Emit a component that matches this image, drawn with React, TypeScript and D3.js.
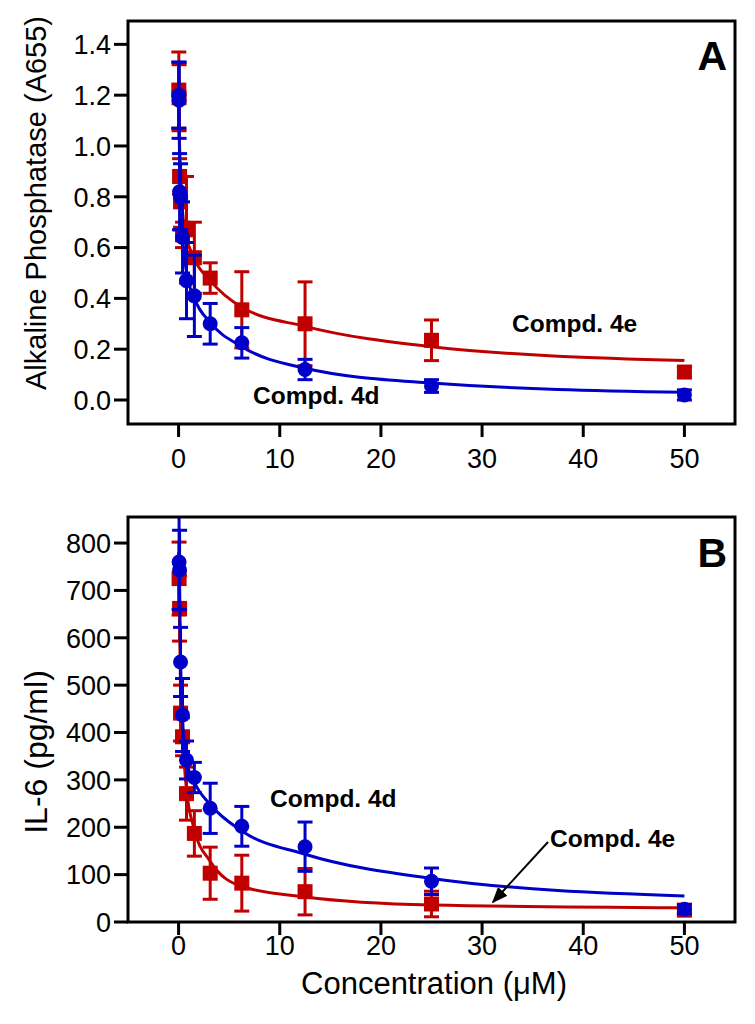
import React from 'react';
import * as d3 from 'd3';

// ---------- Data ----------
const xTicks = [0, 10, 20, 30, 40, 50];

// Panel A: Alkaline Phosphatase (A655)
const concA = [0.024, 0.049, 0.098, 0.195, 0.39, 0.78, 1.56, 3.125, 6.25, 12.5, 25, 50];
const red4eA = [1.22, 1.19, 0.88, 0.78, 0.65, 0.67, 0.56, 0.48, 0.355, 0.30, 0.235, 0.11];
const red4eAErr = [0.15, 0.13, 0.07, 0.10, 0.05, 0.21, 0.14, 0.06, 0.15, 0.165, 0.08, 0.02];
const blue4dA = [1.20, 1.18, 0.82, 0.80, 0.64, 0.47, 0.41, 0.30, 0.225, 0.12, 0.055, 0.02];
const blue4dAErr = [0.13, 0.15, 0.15, 0.13, 0.14, 0.15, 0.16, 0.08, 0.06, 0.04, 0.025, 0.02];
const fitConcA = [0, 0.1, 0.2, 0.4, 0.8, 1.56, 3.125, 6.25, 12.5, 25, 50];
const red4eAFit = [1.22, 1.0, 0.88, 0.74, 0.64, 0.555, 0.47, 0.365, 0.29, 0.21, 0.155];
const blue4dAFit = [1.19, 0.95, 0.80, 0.64, 0.50, 0.40, 0.305, 0.21, 0.125, 0.067, 0.03];
const yTicksA = [0, 0.2, 0.4, 0.6, 0.8, 1.0, 1.2, 1.4];

// Panel B: IL-6 (pg/ml)
const concB = [0.049, 0.098, 0.195, 0.39, 0.78, 1.56, 3.125, 6.25, 12.5, 25, 50];
const red4eB = [725, 662, 441, 391, 271, 187, 103, 82, 64, 38, 25];
const red4eBErr = [77, 69, 59, 40, 56, 48, 55, 59, 49, 27, 8];
const blue4dB = [760, 743, 549, 437, 342, 305, 240, 202, 159, 86, 27];
const blue4dBErr = [100, 84, 73, 77, 40, 32, 53, 42, 52, 28, 10];
const fitConcB = [0, 0.098, 0.2, 0.39, 0.78, 1.56, 3.125, 6.25, 12.5, 25, 50];
const red4eBFit = [730, 640, 480, 390, 280, 195, 128, 75, 53, 36, 30];
const blue4dBFit = [780, 700, 550, 430, 340, 295, 248, 192, 143, 92, 55];
const yTicksB = [0, 100, 200, 300, 400, 500, 600, 700, 800];

const RED = '#c00000';
const BLUE = '#0000c8';
const FONT = 'Arial, "Liberation Sans", Helvetica, sans-serif';

const LEFT = 128;
const RIGHT = 735;

type Series = { conc: number[]; vals: number[]; errs: number[]; color: string; shape: 'square' | 'circle' };
type Fit = { conc: number[]; vals: number[]; color: string };
type Note = { text: string; x: number; y: number };

function Panel(props: {
  id: string;
  top: number;
  bottom: number;
  yDomain: [number, number];
  yTicks: number[];
  fmt: (v: number) => string;
  series: Series[];
  fits: Fit[];
  notes: Note[];
  letter: string;
  letterY: number;
  xLabelOffset: number;
  arrow?: { x1: number; y1: number; x2: number; y2: number };
}) {
  const { id, top, bottom, yDomain, yTicks, fmt, series, fits, notes, letter, letterY, xLabelOffset, arrow } = props;
  const x = d3.scaleLinear().domain([-5, 55]).range([LEFT, RIGHT]);
  const y = d3.scaleLinear().domain(yDomain).range([bottom, top]);
  const line = d3
    .line<[number, number]>()
    .x((d) => x(d[0]))
    .y((d) => y(d[1]))
    .curve(d3.curveMonotoneX);
  const capW = 7.5;
  return (
    <g>
      <defs>
        <clipPath id={`clip-${id}`}>
          <rect x={LEFT} y={top} width={RIGHT - LEFT} height={bottom - top} />
        </clipPath>
      </defs>
      <g clipPath={`url(#clip-${id})`}>
        {series.map((s, si) => (
          <g key={`s${si}`}>
            {fits
              .filter((f) => f.color === s.color)
              .map((f, fi) => (
                <path
                  key={`f${fi}`}
                  d={line(f.conc.map((c, i) => [c, f.vals[i]] as [number, number])) || ''}
                  fill="none"
                  stroke={f.color}
                  strokeWidth={3}
                />
              ))}
            {s.conc.map((c, i) => {
              const cx = x(c);
              const y1 = y(s.vals[i] + s.errs[i]);
              const y2 = y(s.vals[i] - s.errs[i]);
              return (
                <g key={`e${i}`} stroke={s.color} strokeWidth={3}>
                  <line x1={cx} x2={cx} y1={y1} y2={y2} />
                  <line x1={cx - capW} x2={cx + capW} y1={y1} y2={y1} />
                  <line x1={cx - capW} x2={cx + capW} y1={y2} y2={y2} />
                </g>
              );
            })}
            {s.conc.map((c, i) =>
              s.shape === 'square' ? (
                <rect key={`m${i}`} x={x(c) - 7.5} y={y(s.vals[i]) - 7.5} width={15} height={15} fill={s.color} />
              ) : (
                <circle key={`m${i}`} cx={x(c)} cy={y(s.vals[i])} r={7.5} fill={s.color} />
              )
            )}
          </g>
        ))}
      </g>
      <rect x={LEFT} y={top} width={RIGHT - LEFT} height={bottom - top} fill="none" stroke="#000" strokeWidth={3} />
      {yTicks.map((t) => (
        <g key={`yt${t}`}>
          <line x1={LEFT - 14} x2={LEFT} y1={y(t)} y2={y(t)} stroke="#000" strokeWidth={3} />
          <text x={LEFT - 17} y={y(t)} dy="0.36em" textAnchor="end" fontSize={27} fontFamily={FONT} fill="#000">
            {fmt(t)}
          </text>
        </g>
      ))}
      {xTicks.map((t) => (
        <g key={`xt${t}`}>
          <line x1={x(t)} x2={x(t)} y1={bottom} y2={bottom + 13} stroke="#000" strokeWidth={3} />
          <text x={x(t)} y={bottom + xLabelOffset} textAnchor="middle" fontSize={27} fontFamily={FONT} fill="#000">
            {t}
          </text>
        </g>
      ))}
      {notes.map((n, i) => (
        <text key={`n${i}`} x={n.x} y={n.y} fontSize={24.5} fontWeight="bold" fontFamily={FONT} fill="#000">
          {n.text}
        </text>
      ))}
      {arrow && (
        <g>
          <defs>
            <marker id={`arr-${id}`} viewBox="0 0 10 10" refX="9" refY="5" markerWidth="8" markerHeight="8" orient="auto">
              <path d="M0,1 L10,5 L0,9 Z" fill="#000" />
            </marker>
          </defs>
          <line x1={arrow.x1} y1={arrow.y1} x2={arrow.x2} y2={arrow.y2} stroke="#000" strokeWidth={2} markerEnd={`url(#arr-${id})`} />
        </g>
      )}
      <text x={727} y={letterY} textAnchor="end" fontSize={41} fontWeight="bold" fontFamily={FONT} fill="#000">
        {letter}
      </text>
    </g>
  );
}

export default function App() {
  const f1 = d3.format('.1f');
  const f0 = d3.format('d');
  return (
    <div style={{ position: 'absolute', left: 0, top: 0 }}>
      <svg width={755} height={1024} style={{ display: 'block', background: '#fff' }}>
        <Panel
          id="a"
          top={21}
          bottom={424}
          yDomain={[-0.0945, 1.492]}
          yTicks={yTicksA}
          fmt={f1}
          xLabelOffset={44}
          series={[
            { conc: concA, vals: red4eA, errs: red4eAErr, color: RED, shape: 'square' },
            { conc: concA, vals: blue4dA, errs: blue4dAErr, color: BLUE, shape: 'circle' },
          ]}
          fits={[
            { conc: fitConcA, vals: red4eAFit, color: RED },
            { conc: fitConcA, vals: blue4dAFit, color: BLUE },
          ]}
          notes={[
            { text: 'Compd. 4e', x: 512, y: 332 },
            { text: 'Compd. 4d', x: 253, y: 404 },
          ]}
          letter="A"
          letterY={70}
        />
        <Panel
          id="b"
          top={517}
          bottom={922}
          yDomain={[0, 855]}
          yTicks={yTicksB}
          fmt={f0}
          xLabelOffset={33}
          series={[
            { conc: concB, vals: red4eB, errs: red4eBErr, color: RED, shape: 'square' },
            { conc: concB, vals: blue4dB, errs: blue4dBErr, color: BLUE, shape: 'circle' },
          ]}
          fits={[
            { conc: fitConcB, vals: red4eBFit, color: RED },
            { conc: fitConcB, vals: blue4dBFit, color: BLUE },
          ]}
          notes={[
            { text: 'Compd. 4d', x: 270, y: 807 },
            { text: 'Compd. 4e', x: 550, y: 847 },
          ]}
          letter="B"
          letterY={567}
          arrow={{ x1: 548, y1: 842, x2: 493, y2: 902 }}
        />
        <text
          transform="translate(46,203) rotate(-90)"
          textAnchor="middle"
          fontSize={29}
          fontFamily={FONT}
          fill="#000"
        >
          Alkaline Phosphatase (A655)
        </text>
        <text
          transform="translate(47,752) rotate(-90)"
          textAnchor="middle"
          fontSize={32}
          fontFamily={FONT}
          fill="#000"
        >
          IL-6 (pg/ml)
        </text>
        <text x={434} y={994} textAnchor="middle" fontSize={31} fontFamily={FONT} fill="#000">
          Concentration (μM)
        </text>
      </svg>
    </div>
  );
}
